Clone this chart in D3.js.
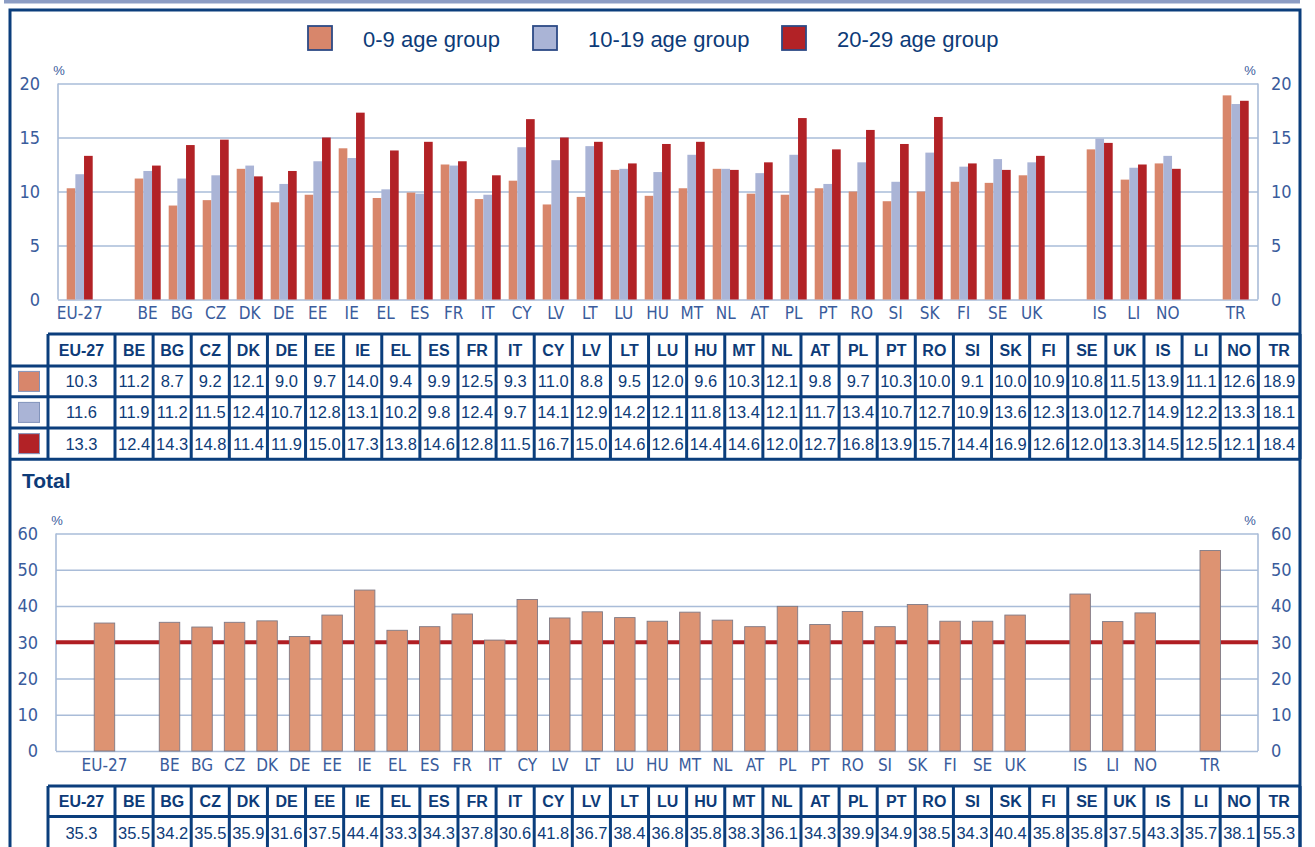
<!DOCTYPE html>
<html>
<head>
<meta charset="utf-8">
<script src="https://cdn.jsdelivr.net/npm/d3@7"></script>
<style>
  body { margin: 0; background: #fff; }
  svg { display: block; font-family: "Liberation Sans", Arial, sans-serif; }
  .tick text { font-family: "Liberation Sans Narrow", "DejaVu Sans Condensed", sans-serif; }
</style>
</head>
<body>
<svg id="chart"></svg>
<script>
// data
var categories = ["EU-27","BE","BG","CZ","DK","DE","EE","IE","EL","ES","FR","IT","CY","LV","LT","LU","HU","MT","NL","AT","PL","PT","RO","SI","SK","FI","SE","UK","IS","LI","NO","TR"];
var age0_9   = [10.3,11.2,8.7,9.2,12.1,9.0,9.7,14.0,9.4,9.9,12.5,9.3,11.0,8.8,9.5,12.0,9.6,10.3,12.1,9.8,9.7,10.3,10.0,9.1,10.0,10.9,10.8,11.5,13.9,11.1,12.6,18.9];
var age10_19 = [11.6,11.9,11.2,11.5,12.4,10.7,12.8,13.1,10.2,9.8,12.4,9.7,14.1,12.9,14.2,12.1,11.8,13.4,12.1,11.7,13.4,10.7,12.7,10.9,13.6,12.3,13.0,12.7,14.9,12.2,13.3,18.1];
var age20_29 = [13.3,12.4,14.3,14.8,11.4,11.9,15.0,17.3,13.8,14.6,12.8,11.5,16.7,15.0,14.6,12.6,14.4,14.6,12.0,12.7,16.8,13.9,15.7,14.4,16.9,12.6,12.0,13.3,14.5,12.5,12.1,18.4];
var total    = [35.3,35.5,34.2,35.5,35.9,31.6,37.5,44.4,33.3,34.3,37.8,30.6,41.8,36.7,38.4,36.8,35.8,38.3,36.1,34.3,39.9,34.9,38.5,34.3,40.4,35.8,35.8,37.5,43.3,35.7,38.1,55.3];
var seriesNames = ["0-9 age group","10-19 age group","20-29 age group"];
var seriesColors = ["#d8866b","#aab4d6","#b22226"];
var yTicks1 = [0,5,10,15,20];
var yTicks2 = [0,10,20,30,40,50,60];
var referenceLine = 30;
var gapAfter = ["EU-27","UK","NO"];

var W = 1315, H = 847;
var dark = "#0b3e7c", textBlue = "#0d3b78", axisBlue = "#3a5c9c", grid = "#a9bcd8";

var svg = d3.select("#chart").attr("width", W).attr("height", H);

// slot list with empty slots between groups of countries
var slots = [];
categories.forEach(function(c, i) {
  slots.push(c);
  if (gapAfter.indexOf(c) >= 0) slots.push("gap" + i);
});

// outer decoration
svg.append("rect").attr("x", 4).attr("y", 0).attr("width", 1296).attr("height", 3.5).attr("fill", "#8c9dc4");
svg.append("path")
  .attr("d", "M10," + (H + 5) + "V10H1300V" + (H + 5))
  .attr("fill", "none").attr("stroke", dark).attr("stroke-width", 3);

// legend
var legendX = [308, 533, 782];
seriesNames.forEach(function(s, i) {
  svg.append("rect").attr("x", legendX[i]).attr("y", 26).attr("width", 24).attr("height", 24)
    .attr("fill", seriesColors[i]).attr("stroke", "#2d4a86").attr("stroke-width", 1.8);
  svg.append("text").attr("x", legendX[i] + 55).attr("y", 47).text(s)
    .style("font-size", "22px").style("fill", textBlue);
});

function drawFrame(g, y, left, right, ticks, top, bottom) {
  // gridlines + left labels
  g.append("g")
    .attr("transform", "translate(" + left + ",0)")
    .call(d3.axisLeft(y).tickValues(ticks).tickSize(-(right - left)).tickPadding(18))
    .call(function(a) {
      a.select(".domain").remove();
      a.selectAll("line").attr("stroke", grid).attr("stroke-width", 1.6);
      a.selectAll("text").style("font-size", "18px").style("fill", axisBlue);
    });
  g.append("g")
    .attr("transform", "translate(" + right + ",0)")
    .call(d3.axisRight(y).tickValues(ticks).tickSize(0).tickPadding(13))
    .call(function(a) {
      a.select(".domain").remove();
      a.selectAll("text").style("font-size", "18px").style("fill", axisBlue);
    });
  g.append("line").attr("x1", left).attr("x2", left).attr("y1", top).attr("y2", bottom)
    .attr("stroke", grid).attr("stroke-width", 1.6);
  g.append("line").attr("x1", right).attr("x2", right).attr("y1", top).attr("y2", bottom)
    .attr("stroke", grid).attr("stroke-width", 1.6);
  g.append("text").attr("x", left + 1).attr("y", top - 9).attr("text-anchor", "middle").text("%")
    .style("font-size", "13px").style("fill", axisBlue);
  g.append("text").attr("x", right - 8).attr("y", top - 9).attr("text-anchor", "middle").text("%")
    .style("font-size", "13px").style("fill", axisBlue);
}

function xLabels(g, x, yPos, pad) {
  g.append("g")
    .attr("transform", "translate(0," + yPos + ")")
    .call(d3.axisBottom(x).tickValues(categories).tickSize(0).tickPadding(pad))
    .call(function(a) {
      a.select(".domain").remove();
      a.selectAll("text").style("font-size", "17px").style("fill", axisBlue);
    });
}

// ---- chart 1: age groups ----
var g1 = svg.append("g");
var y1 = d3.scaleLinear().domain([0, 20]).range([299.5, 83.5]);
drawFrame(g1, y1, 58, 1258, yTicks1, 83.5, 299.5);

var x1 = d3.scaleBand().domain(slots).range([62.7, 1252.7]).paddingInner(0.235).paddingOuter(0.1175);
var xs = d3.scaleBand().domain([0, 1, 2]).range([0, x1.bandwidth()]);
var seriesData = [age0_9, age10_19, age20_29];

g1.append("g").selectAll("g")
  .data(categories)
  .enter().append("g")
  .attr("transform", function(d) { return "translate(" + x1(d) + ",0)"; })
  .selectAll("rect")
  .data(function(d, i) { return seriesData.map(function(s, k) { return {k: k, v: s[i]}; }); })
  .enter().append("rect")
  .attr("x", function(d) { return xs(d.k); })
  .attr("width", xs.bandwidth())
  .attr("y", function(d) { return y1(d.v); })
  .attr("height", function(d) { return y1(0) - y1(d.v); })
  .attr("fill", function(d) { return seriesColors[d.k]; });

xLabels(g1, x1, 299.5, 7);

// ---- tables ----
var colEdges = [48, 115];
for (var i = 1; i < categories.length - 1; i++) colEdges.push(115 + i * 38.11);
colEdges.push(1300);

function drawTable(top, rowBottoms, rows, swatches) {
  var t = svg.append("g");
  var bottom = rowBottoms[rowBottoms.length - 1];
  // header line
  t.append("line").attr("x1", 48).attr("x2", 1300).attr("y1", top).attr("y2", top)
    .attr("stroke", dark).attr("stroke-width", 3);
  rowBottoms.forEach(function(yb) {
    t.append("line").attr("x1", swatches ? 10 : 48).attr("x2", 1300).attr("y1", yb).attr("y2", yb)
      .attr("stroke", dark).attr("stroke-width", 3);
  });
  colEdges.forEach(function(xe) {
    t.append("line").attr("x1", xe).attr("x2", xe).attr("y1", top).attr("y2", bottom)
      .attr("stroke", dark).attr("stroke-width", 3);
  });
  categories.forEach(function(c, i) {
    var cx = (colEdges[i] + colEdges[i + 1]) / 2;
    t.append("text").attr("x", cx).attr("y", (top + rowBottoms[0]) / 2 + 6)
      .attr("text-anchor", "middle").text(c)
      .style("font-size", "16px").style("font-weight", "bold").style("fill", textBlue);
    rows.forEach(function(r, k) {
      var yt = rowBottoms[k], yb2 = rowBottoms[k + 1];
      t.append("text").attr("x", cx).attr("y", (yt + yb2) / 2 + 6)
        .attr("text-anchor", "middle").text(d3.format(".1f")(r[i]))
        .style("font-size", "16.5px").style("fill", textBlue);
    });
  });
  if (swatches) {
    rows.forEach(function(r, k) {
      var yt = rowBottoms[k], yb2 = rowBottoms[k + 1];
      t.append("rect").attr("x", 18.5).attr("y", (yt + yb2) / 2 - 10).attr("width", 21).attr("height", 20)
        .attr("fill", seriesColors[k]).attr("stroke", "#8193bb").attr("stroke-width", 1);
    });
  }
}

drawTable(334, [366, 396.8, 428, 459.3], seriesData, true);

// ---- chart 2: total ----
svg.append("text").attr("x", 22).attr("y", 488).text("Total")
  .style("font-size", "21px").style("font-weight", "bold").style("fill", textBlue);

var g2 = svg.append("g");
var y2 = d3.scaleLinear().domain([0, 60]).range([751, 533.5]);
drawFrame(g2, y2, 56, 1258, yTicks2, 533.5, 751);

g2.append("line").attr("x1", 56).attr("x2", 1258)
  .attr("y1", y2(referenceLine)).attr("y2", y2(referenceLine))
  .attr("stroke", "#b01e23").attr("stroke-width", 4);

var x2 = d3.scaleBand().domain(slots).range([88.2, 1226.5]).paddingInner(0.37).paddingOuter(0.185);
g2.append("g").selectAll("rect")
  .data(categories)
  .enter().append("rect")
  .attr("x", function(d) { return x2(d); })
  .attr("width", x2.bandwidth())
  .attr("y", function(d, i) { return y2(total[i]); })
  .attr("height", function(d, i) { return y2(0) - y2(total[i]); })
  .attr("fill", "#dd9372")
  .attr("stroke", "#7f7a86")
  .attr("stroke-width", 0.9);

xLabels(g2, x2, 751, 8);

drawTable(786, [816.5, 850], [total], false);
</script>
</body>
</html>
